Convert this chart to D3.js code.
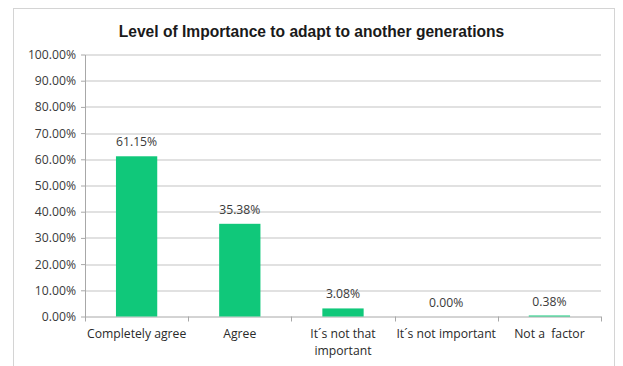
<!DOCTYPE html>
<html>
<head>
<meta charset="utf-8">
<script src="https://cdn.jsdelivr.net/npm/d3@7"></script>
<style>
  html, body { margin: 0; padding: 0; background: #ffffff; }
  svg { display: block; }
  text { white-space: pre; }
</style>
</head>
<body>
<svg id="chart" width="623" height="366"></svg>
<script>
// Survey answers and their shares (percent)
const categories = [
  ["Completely agree"],
  ["Agree"],
  ["It\u00b4s not that", "important"],
  ["It\u00b4s not important"],
  ["Not a  factor"]
];
const values = [61.15, 35.38, 3.08, 0.00, 0.38];
const yTicks = [0, 10, 20, 30, 40, 50, 60, 70, 80, 90, 100];
const title = "Level of Importance to adapt to another generations";

const svg = d3.select("#chart");
const W = 623, H = 366;
const margin = { left: 85, right: 22, top: 54.5, bottom: 49.5 };
const plotW = W - margin.left - margin.right;
const plotH = H - margin.top - margin.bottom;

const labelFont = "'Open Sans', 'Noto Sans', sans-serif";
const labelSize = 12.2;

// Chart frame
svg.append("rect")
  .attr("x", 13.5).attr("y", 8.5)
  .attr("width", 601).attr("height", 370)
  .attr("fill", "#ffffff")
  .attr("stroke", "#d4d4d4").attr("stroke-width", 1);

svg.append("text")
  .attr("x", 311.5).attr("y", 37)
  .attr("text-anchor", "middle")
  .attr("font-family", "'Liberation Sans', Arial, sans-serif")
  .attr("font-weight", "bold")
  .attr("font-size", 15.6)
  .attr("fill", "#1a1a1a")
  .text(title);

const g = svg.append("g").attr("transform", `translate(${margin.left},${margin.top})`);

const x = d3.scaleBand()
  .domain(d3.range(categories.length))
  .range([0, plotW])
  .paddingInner(0.6)
  .paddingOuter(0.3);

const y = d3.scaleLinear().domain([0, 100]).range([plotH, 0]);

// Horizontal gridlines
g.append("g")
  .selectAll("line")
  .data(yTicks.filter(t => t > 0))
  .join("line")
  .attr("x1", 0).attr("x2", plotW)
  .attr("y1", d => Math.round(y(d)) + 0.5).attr("y2", d => Math.round(y(d)) + 0.5)
  .attr("stroke", "#c4c4c4").attr("stroke-width", 1.2);

// Y axis
const yAxis = g.append("g")
  .call(d3.axisLeft(y).tickValues(yTicks).tickSize(4).tickSizeOuter(0)
    .tickFormat(d => d.toFixed(2) + "%"));
yAxis.select(".domain").attr("stroke", "#a8a8a8");
yAxis.selectAll(".tick line").attr("stroke", "#a8a8a8");
yAxis.selectAll(".tick text")
  .attr("x", -9)
  .attr("font-family", labelFont)
  .attr("font-size", labelSize)
  .attr("fill", "#3a3a3a");

// X axis with ticks between categories
const xAxisG = g.append("g").attr("transform", `translate(0,${plotH})`);
xAxisG.append("line")
  .attr("x1", 0).attr("x2", plotW).attr("y1", 0.5).attr("y2", 0.5)
  .attr("stroke", "#a8a8a8");
xAxisG.selectAll("line.sep")
  .data(d3.range(categories.length + 1))
  .join("line")
  .attr("class", "sep")
  .attr("x1", i => Math.round(i * x.step()) + 0.5)
  .attr("x2", i => Math.round(i * x.step()) + 0.5)
  .attr("y1", 0).attr("y2", 5)
  .attr("stroke", "#a8a8a8");

// Category names; multi-line names get one text per line
const lineGap = 16.5;
const catGroups = xAxisG.selectAll("g.cat")
  .data(categories)
  .join("g")
  .attr("class", "cat")
  .attr("transform", (d, i) => `translate(${x(i) + x.bandwidth() / 2},21.5)`);
catGroups.selectAll("text")
  .data(d => d)
  .join("text")
  .attr("text-anchor", "middle")
  .attr("y", (d, i) => i * lineGap)
  .attr("font-family", labelFont)
  .attr("font-size", labelSize)
  .attr("fill", "#2a2a2a")
  .text(d => d);

// Bars
g.selectAll("rect.bar")
  .data(values)
  .join("rect")
  .attr("class", "bar")
  .attr("x", (d, i) => x(i))
  .attr("width", x.bandwidth())
  .attr("y", d => y(d))
  .attr("height", d => plotH - y(d))
  .attr("fill", "#10c87a");

// Value labels
g.selectAll("text.val")
  .data(values)
  .join("text")
  .attr("class", "val")
  .attr("text-anchor", "middle")
  .attr("x", (d, i) => x(i) + x.bandwidth() / 2)
  .attr("y", d => y(d) - 10)
  .attr("font-family", labelFont)
  .attr("font-size", labelSize)
  .attr("fill", "#3a3a3a")
  .text(d => d.toFixed(2) + "%");
</script>
</body>
</html>
